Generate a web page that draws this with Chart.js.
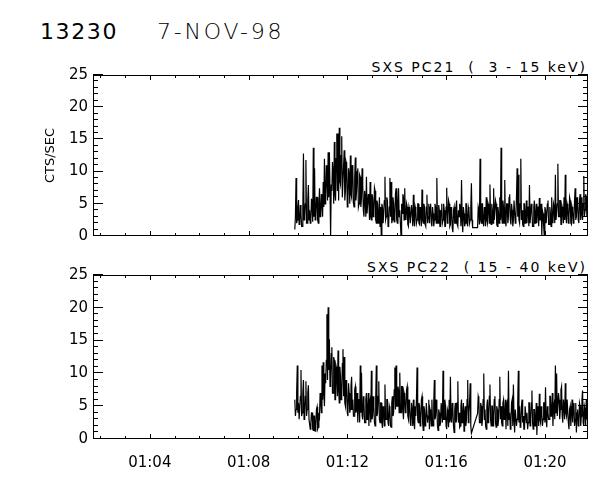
<!DOCTYPE html>
<html>
<head>
<meta charset="utf-8">
<script src="https://cdn.jsdelivr.net/npm/chart.js@4.4.0/dist/chart.umd.min.js"></script>
<style>
  body { margin: 0; background: #fff; width: 600px; height: 480px; position: relative; overflow: hidden;
         font-family: "DejaVu Sans", sans-serif; color: #000; }
  .txt { position: absolute; white-space: pre; line-height: 1; }
  #orbit { left: 40px; top: 21px; font-size: 22px; letter-spacing: 1.6px; }
  #date { left: 157px; top: 21px; font-size: 22px; font-weight: 300; letter-spacing: 2.8px; }
  .sub { right: 13px; font-size: 14px; letter-spacing: 2px; }
  #sub1 { top: 60px; }
  #sub2 { top: 260px; }
  canvas { position: absolute; left: 0; }
  #c1 { top: 0; }
  #c2 { top: 250px; }
</style>
</head>
<body>
<div class="txt" id="orbit">13230</div>
<div class="txt" id="date">7-NOV-98</div>
<div class="txt sub" id="sub1">SXS PC21  (  3 - 15 keV)</div>
<div class="txt sub" id="sub2">SXS PC22  ( 15 - 40 keV)</div>
<canvas id="c1" width="600" height="250"></canvas>
<canvas id="c2" width="600" height="230"></canvas>
<script>
// time axis in minutes after 01:00 UT
const startMinute = 9.87;
const stepMinute = 0.025;
const xMin = 1.70, xMax = 21.74;
const xTicks = [4, 8, 12, 16, 20];
const xTickLabels = ['01:04', '01:08', '01:12', '01:16', '01:20'];
const yTicks = [0, 5, 10, 15, 20, 25];

// SXS PC21 (3 - 15 keV), counts/sec
const pc21 = [
  1, 3, 9, 2, 2.5, 4.5, 5.6, 1.8, 2, 4.8, 3.5, 1.5, 1.5, 4.2, 12.8, 2.5, 3, 5, 11.8, 2,
  2, 5.5, 7.9, 2.5, 4, 2, 2.5, 5.8, 5, 2.2, 13.7, 3, 10.5, 2.5, 3, 6, 6, 2.5, 2, 5,
  7.4, 3, 3.5, 6.5, 5, 3, 8.4, 4.5, 12, 5, 6, 11, 9, 5.5, 13, 6, 13, 7, 0, 8,
  7, 11.5, 10, 5, 14.6, 6.5, 5.5, 12, 15.9, 7, 15.9, 5.5, 16.8, 8.5, 8, 12.5, 15.5, 6, 6, 11,
  13.3, 5.5, 7, 11.5, 11, 4.5, 5, 10.5, 9.5, 5, 12.5, 6.5, 6, 11, 10, 5, 4.5, 9, 12.2, 5.5,
  7, 10, 10.5, 4.5, 5, 9.5, 9.2, 4.5, 6, 10.5, 8, 4, 3, 7, 6, 3, 9.2, 3.5, 3.5, 6.5,
  5.5, 2.5, 8.4, 3, 2.5, 6.5, 6, 3, 4, 7.5, 7, 2.5, 2, 5.5, 5, 2, 3, 6, 1.5, 4.5,
  0, 5, 4.5, 2, 2, 5.5, 9.2, 2.5, 3, 6, 5.5, 1.5, 1.8, 4.5, 9, 3, 8.4, 2, 2.5, 6,
  5, 2.2, 3, 6.5, 7.4, 2.5, 2, 5.5, 7.4, 3, 4, 2, 0, 5, 3.5, 6.5, 6, 2.5, 7.4, 3,
  2.5, 5, 4.5, 1.8, 1.5, 4.5, 4, 2, 2, 4.8, 3.5, 1.5, 6.4, 2.5, 1.5, 4.5, 4, 2, 2.5, 5,
  5, 2, 1.8, 4.5, 3.5, 1.5, 7.2, 2.5, 2, 5, 4.5, 1.8, 1.5, 4.5, 6.4, 2, 3, 5, 2, 4.5,
  5, 2, 1.5, 4.5, 3.5, 1.5, 2.5, 5, 4.5, 2, 9, 2.5, 2, 4.8, 4, 1.5, 1.5, 4, 5, 2,
  2.5, 5, 4, 1.5, 1.5, 4.5, 7.5, 2, 3, 5.5, 5, 1.5, 1.8, 4.5, 3.5, 1.2, 0.6, 4, 4.5, 2,
  2, 4.5, 5.5, 1.8, 1.5, 4, 3, 5, 4.5, 1.5, 8.7, 2.5, 0.6, 4.5, 3.5, 1.5, 2, 5, 5, 2,
  1.5, 4.5, 4, 2, 2.5, 4.5, 8.2, 2.5, 1.3, null, null, null, null, null, null, null, 1.3, 4.5, 4, 1.8,
  12, 2.5, 2, 5, 5, 2, 1.5, 4.5, 3.5, 1.5, 6, 2.5, 2, 5, 4.5, 2, 8, 3, 1.8, 5,
  4, 2, 7.4, 2.5, 2.5, 5.5, 5, 1.8, 1.5, 4.5, 3.5, 2, 6, 2.5, 13.7, 3, 2, 5.5, 4.5, 2,
  8.7, 2.5, 1.5, 5, 5, 2, 3, 6, 6.5, 2.5, 1.8, 5, 4, 1.5, 2.5, 5.5, 5.5, 2, 3, 6,
  10.5, 3, 9.5, 2.5, 2, 5, 12, 2.5, 4, 1.8, 1.5, 5, 5, 2, 3, 5.5, 2, 4.5, 4.5, 1.5,
  7.9, 2, 2, 5, 4, 1.5, 1.5, 4.5, 5.5, 2, 3, 5, 2, 4.5, 4.5, 1.5, 5.9, 2.5, 2.5, 5,
  0, 4, 3.5, 1.5, 0, 4.5, 4, 2, 2, 5, 5.5, 1.8, 1.8, 4.5, 3.5, 1.5, 6, 2.5, 2, 5,
  4.5, 2, 9.5, 2.5, 2.5, 5, 11.2, 3, 3, 5.5, 5.5, 1.8, 1.8, 4.5, 4, 2, 6, 2.5, 9.5, 3,
  2, 5, 4.5, 2, 3, 6, 5.5, 2, 1.8, 4.5, 4, 2, 2.5, 5.5, 7.4, 2.5, 3, 6, 5, 2.5,
  2, 5.5, 6.5, 2.5, 3.5, 6, 2.5, 5, 9.3, 3, 4, 6.5, 6, 3, 5, 4.5
];

// SXS PC22 (15 - 40 keV), counts/sec
const pc22 = [
  6, 3.5, 4.5, 7, 11.2, 4, 5.5, 3, 3, 6.5, 10.5, 3.5, 4, 7, 9, 3, 3.5, 6.5, 8.8, 3.5,
  4.5, 7, 8.2, 3, 3, 1.5, 2.5, 4, 4, 1.5, 1.3, 3.5, 3.5, 1.2, 2, 4.5, 4.9, 1.5, 1.8, 4,
  3.5, 7, 6, 4, 11.2, 6, 11.7, 7, 5, 10, 8.5, 12, 19, 9, 20.1, 10.5, 15.2, 8, 9, 13,
  14, 7, 7, 12.5, 12, 6, 6, 11, 10.5, 6.5, 13.5, 7.5, 5.5, 11, 9.5, 6, 7, 11.5, 13.7, 6.5,
  12.5, 5.5, 5, 9, 8, 4, 3.5, 8.5, 7, 4, 4.5, 8, 9.5, 4.5, 6, 3.5, 3.5, 7.5, 8, 4,
  4.5, 7, 2.5, 6, 6, 2.5, 11.2, 4, 10.1, 3.5, 3, 6.5, 5.5, 2.5, 2.5, 6, 7, 3, 4, 7,
  2, 5.5, 6, 2.5, 10.4, 3, 3.5, 6.5, 5, 2.5, 2, 6, 11.2, 3.5, 4, 6.5, 8.8, 3, 2.5, 5.5,
  5.5, 2.5, 1.7, 5, 4, 2, 8.3, 3, 3, 6, 6, 2.5, 2, 5, 4.5, 2, 1.8, 5.5, 6.5, 3.5,
  4, 7.5, 10.9, 4.5, 11.2, 5, 5, 8, 7.5, 4, 10.1, 5, 4, 8, 8, 4.5, 3, 7, 6.5, 4,
  4.5, 7.5, 8, 3.5, 3, 6, 5, 2.5, 2, 5.5, 4.5, 2, 6, 2.5, 1.5, 5, 3.5, 6, 10.9, 3,
  2.5, 5.5, 5, 2, 3, 6, 6.5, 2.5, 1.3, 5, 4.5, 2, 2.5, 5.5, 5.5, 2.5, 3.5, 6, 1.5, 4.5,
  4, 2, 6, 2.5, 2, 5.5, 9, 3, 3.5, 6, 5, 2, 1.3, 4.5, 4, 2, 2.5, 5.5, 5.5, 2.5,
  10.4, 3, 3, 6, 5, 2, 1.5, 4.5, 4, 1.8, 6, 2.5, 9.5, 3, 2.5, 5.5, 4.5, 2, 1, 4.5,
  5.5, 2.5, 3, 5.5, 8.8, 2.5, 4, 1.8, 2, 5, 6, 2.5, 3.5, 5.5, 1.2, 4, 5, 2, 3, 6,
  9, 2.5, 4, 5.5, 8.5, 2, 0.9, null, null, null, null, null, null, null, null, null, 3.9, 6.5, 6, 2.5,
  2.5, 5.5, 5, 2, 3, 6, 10, 3, 4.5, 2, 1.5, 5, 6, 2.5, 3.5, 6.5, 8.3, 3, 2, 5,
  5, 2, 3.5, 6, 6.5, 2.5, 1.8, 5, 4.5, 2, 3, 6, 9.5, 3, 5, 2.5, 2, 5.5, 6, 3,
  3.5, 6, 1.5, 5, 5.5, 2, 10.4, 3, 4, 1.5, 2.5, 5.5, 6, 2, 8.3, 3, 1, 4.5, 4.5, 2,
  3, 5.5, 10.4, 2.5, 5, 1.8, 2, 5, 6, 2.5, 3.5, 1.5, 1.5, 5, 5, 2.5, 4, 1.5, 2.5, 5.5,
  5.5, 2, 3, 5.5, 7.4, 2.5, 1.5, 4.5, 4.5, 2, 3, 5.5, 0.6, 4, 5, 2, 6.9, 3, 2.5, 5,
  4, 2, 3, 5.5, 5.5, 2.5, 7.9, 3, 1.8, 5, 4, 3, 3, 6.5, 6.5, 3.5, 4, 7, 2, 5,
  5.5, 3, 11.2, 4, 10, 3.5, 3.5, 7, 6, 3, 4.5, 7.5, 8, 3.5, 2.5, 6, 5, 3, 8.5, 4,
  3.5, 6, 6, 2.5, 1.5, 4.5, 5, 2, 4, 6, 2.5, 5, 5.5, 2, 3, 5.5, 1, 4, 4.5, 2,
  2.5, 5.5, 5, 2, 3.5, 6, 7.4, 2.5, 2, 5, 4.5, 2, 6, 3, 3.5, 5
];

const toPoints = arr => arr.map((v, i) => ({ x: startMinute + i * stepMinute, y: v }));

// IDL-style frame: box with inward ticks on all four sides
const idlFrame = {
  id: 'idlFrame',
  afterDraw(chart) {
    const { ctx, chartArea: a, scales: { x, y } } = chart;
    ctx.save();
    ctx.strokeStyle = '#000';
    ctx.lineWidth = 1;
    ctx.strokeRect(a.left + 0.5, a.top + 0.5, a.right - a.left - 1, a.bottom - a.top - 1);
    ctx.beginPath();
    for (let v = 0; v <= 25; v++) {
      const p = Math.round(y.getPixelForValue(v)) - 0.5;
      const len = v % 5 === 0 ? 10 : 5;
      ctx.moveTo(a.left, p); ctx.lineTo(a.left + len, p);
      ctx.moveTo(a.right, p); ctx.lineTo(a.right - len, p);
    }
    for (let m = Math.ceil(xMin); m <= xMax; m++) {
      const p = Math.round(x.getPixelForValue(m)) + 0.5;
      const len = m % 4 === 0 ? 5 : 3;
      ctx.moveTo(p, a.bottom); ctx.lineTo(p, a.bottom - len);
      ctx.moveTo(p, a.top); ctx.lineTo(p, a.top + len);
    }
    ctx.stroke();
    ctx.restore();
  }
};

Chart.defaults.font.family = '"DejaVu Sans", sans-serif';
Chart.defaults.color = '#000';

function makePanel(id, values, opts) {
  return new Chart(document.getElementById(id), {
    type: 'line',
    data: {
      datasets: [{
        data: toPoints(values),
        borderColor: '#000',
        borderWidth: 1.2,
        pointRadius: 0,
        tension: 0,
        spanGaps: true
      }]
    },
    options: {
      responsive: false,
      animation: false,
      layout: { padding: opts.padding },
      plugins: { legend: { display: false }, tooltip: { enabled: false } },
      scales: {
        x: {
          type: 'linear',
          min: xMin,
          max: xMax,
          display: opts.showX,
          afterBuildTicks: s => { s.ticks = xTicks.map(v => ({ value: v })); },
          afterFit: s => { s.height = opts.xHeight; },
          grid: { display: false, drawTicks: false },
          border: { display: false },
          ticks: {
            padding: 15,
            maxRotation: 0,
            font: { size: 15 },
            callback: v => xTickLabels[xTicks.indexOf(v)]
          }
        },
        y: {
          min: 0,
          max: 25,
          afterBuildTicks: s => { s.ticks = yTicks.map(v => ({ value: v })); },
          afterFit: s => { s.width = 93; },
          grid: { display: false, drawTicks: false },
          border: { display: false },
          ticks: { padding: 5, font: { size: 15 } },
          title: {
            display: opts.yTitle,
            text: 'CTS/SEC',
            font: { size: 13 },
            padding: { top: 43, bottom: 0 }
          }
        }
      }
    },
    plugins: [idlFrame]
  });
}

makePanel('c1', pc21, { padding: { top: 75, right: 12, bottom: 11, left: 0 }, showX: false, xHeight: 0, yTitle: true });
makePanel('c2', pc22, { padding: { top: 25, right: 12, bottom: 0, left: 0 }, showX: true, xHeight: 41, yTitle: false });
</script>
</body>
</html>
